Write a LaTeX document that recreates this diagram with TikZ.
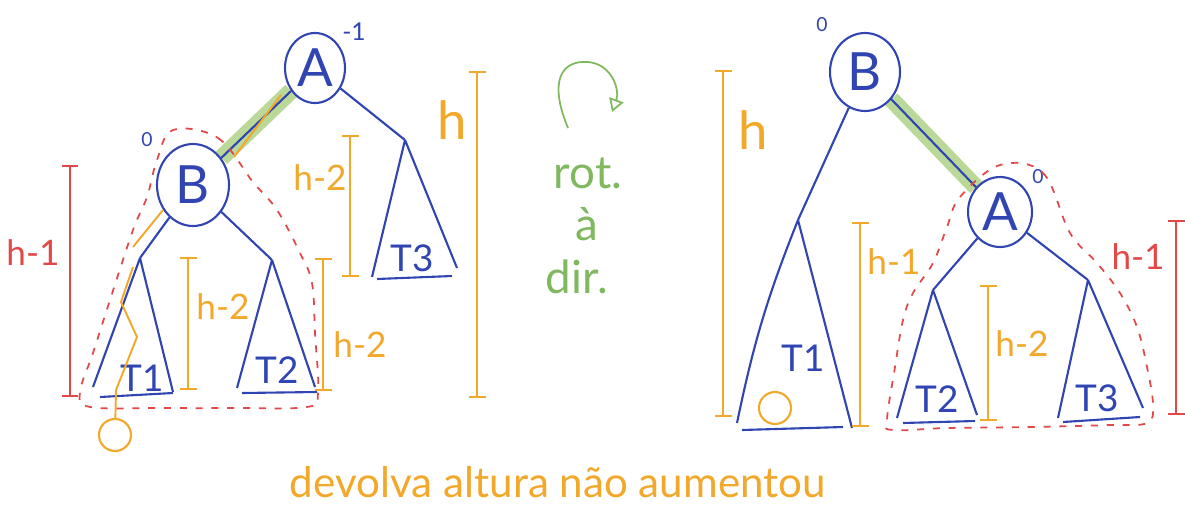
\documentclass[tikz,border=0pt]{standalone}
\usepackage{fontspec}
\setmainfont{Lato}
\usetikzlibrary{arrows.meta,shapes.geometric,backgrounds}
\definecolor{penblue}{RGB}{48,68,178}
\definecolor{penorange}{RGB}{242,168,42}
\definecolor{penred}{RGB}{226,72,72}
\definecolor{pengreen}{RGB}{128,184,96}
\definecolor{marker}{RGB}{186,216,152}

\begin{document}
\begin{tikzpicture}[x=0.02cm, y=-0.02cm,
  knot/.style={draw=penblue, ellipse, line width=1.2pt, inner sep=0pt,
    text=penblue, font=\fontsize{30}{32}\selectfont},
  link/.style={draw=penblue, line width=1.2pt},
  tlbl/.style={text=penblue, font=\fontsize{21}{24}\selectfont},
  bal/.style={text=penblue, font=\fontsize{11}{12}\selectfont},
  ohgt/.style={draw=penorange, line width=1.1pt, {Bar[width=0.34cm]}-{Bar[width=0.34cm]}},
  rhgt/.style={draw=penred, line width=1.1pt, {Bar[width=0.34cm]}-{Bar[width=0.34cm]}},
  olbl/.style={text=penorange, font=\fontsize{20}{22}\selectfont},
  rlbl/.style={text=penred, font=\fontsize{20}{22}\selectfont},
  biglbl/.style={text=penorange, font=\fontsize{30}{32}\selectfont},
  hilite/.style={draw=marker, line width=9.5pt},
  redhull/.style={draw=penred, line width=1pt, dash pattern=on 4pt off 5pt},
  newleaf/.style={draw=penorange, circle, line width=1.2pt, minimum size=0.64cm, inner sep=0pt},
  inspath/.style={draw=penorange, line width=1.1pt},
  rotlbl/.style={text=pengreen, font=\fontsize{26}{30}\selectfont, anchor=base},
  notelbl/.style={text=penorange, font=\fontsize{24}{28}\selectfont, anchor=base}
]
\useasboundingbox (0,0) rectangle (1185,518);

% before the rotation
\node[knot, minimum width=1.2cm, minimum height=1.4cm] (A1) at (315,68) {A};
\node[knot, minimum width=1.44cm, minimum height=1.64cm] (B1) at (193,185) {B};
\node[bal, font=\fontsize{14}{16}\selectfont] (bA1) at (354,32) {-1};
\node[bal] (bB1) at (147,140) {0};

\coordinate (L1) at (140,258);
\coordinate (L2) at (272,260);
\coordinate (L3) at (405,140);

\draw[link] (A1) -- (B1);
\draw[link] (A1) -- (L3);
\draw[link] (B1) -- (L1);
\draw[link] (B1) -- (L2);

\draw[link] (L1) -- (93,387) (L1) -- (173,392) (100,397) -- (173,393);
\draw[link] (L2) -- (237,388) (L2) -- (315,387) (242,393) -- (317,392);
\draw[link] (L3) -- (372,277) (L3) -- (457,268) (377,279) -- (452,276);
\node[tlbl] (lT1) at (142,378) {T1};
\node[tlbl] (lT2) at (277,370) {T2};
\node[tlbl] (lT3) at (412,258) {T3};

\node[newleaf] (n1) at (115,435) {};
\draw[inspath] (281,95) -- (234,157);
\draw[inspath] (163,210) -- (133,247);
\draw[inspath] (133,267) -- (121,302) -- (137,337) -- (116,390) -- (n1);

\draw[redhull] plot[smooth cycle, tension=0.6] coordinates {(173,130) (218,138) (253,182)
  (277,210) (300,253) (312,283) (315,333) (318,393) (307,407) (233,408) (160,408)
  (90,407) (80,392) (93,353) (110,300) (133,230) (147,197) (157,160)};

\draw[rhgt] (70,165) -- (70,397);
\node[rlbl] (lh1) at (33,253) {h-1};
\draw[ohgt] (188,257) -- (188,390);
\node[olbl] (lh2a) at (223,307) {h-2};
\draw[ohgt] (323,258) -- (323,391);
\node[olbl] (lh2b) at (360,345) {h-2};
\draw[ohgt] (350,135) -- (350,277);
\node[olbl] (lh2c) at (320,178) {h-2};
\draw[ohgt] (477,71) -- (477,398);
\node[biglbl] (lh) at (452,120) {h};

% rotation note
\draw[pengreen, line width=1pt, -{Triangle[open, length=0.26cm, width=0.3cm]}]
  (568,128) .. controls (548,80) and (562,60) .. (588,62)
  .. controls (612,64) and (620,90) .. (612,112);
\node[rotlbl] (rot1) at (588,188) {rot.};
\node[rotlbl] (rot2) at (587,240) {à};
\node[rotlbl] (rot3) at (577,293) {dir.};

% after the rotation
\node[knot, minimum width=1.4cm, minimum height=1.56cm] (B2) at (865,72) {B};
\node[knot, minimum width=1.28cm, minimum height=1.4cm] (A2) at (1000,212) {A};
\node[bal] (bB2) at (822,25) {0};
\node[bal] (bA2) at (1038,177) {0};

\coordinate (R1) at (798,220);
\coordinate (R2) at (933,290);
\coordinate (R3) at (1088,280);

\draw[link] (B2) -- (A2);
\draw[link] (B2) -- (R1);
\draw[link] (A2) -- (R2);
\draw[link] (A2) -- (R3);

\draw[link] (R1) to[bend right=5] (737,423) (R1) -- (852,428) (742,430) -- (843,427);
\draw[link] (R2) -- (897,418) (R2) -- (977,415) (903,423) -- (975,421);
\draw[link] (R3) -- (1058,418) (R3) -- (1143,408) (1063,422) -- (1140,417);
\node[tlbl] (rT1) at (803,358) {T1};
\node[tlbl] (rT2) at (937,399) {T2};
\node[tlbl] (rT3) at (1097,398) {T3};

\node[newleaf] (n2) at (775,408) {};

\draw[redhull] plot[smooth cycle, tension=0.6] coordinates {(1000,165) (1043,173)
  (1070,233) (1097,263) (1120,293) (1137,327) (1147,367) (1153,405) (1147,423)
  (1110,425) (1030,427) (947,428) (893,430) (887,420) (895,367) (903,320) (913,293)
  (933,263) (947,227) (960,197)};

\draw[ohgt] (723,70) -- (723,417);
\node[biglbl] (rh) at (753,130) {h};
\draw[ohgt] (860,222) -- (860,427);
\node[olbl] (rh1) at (894,262) {h-1};
\draw[ohgt] (988,285) -- (988,421);
\node[olbl] (rh2) at (1022,344) {h-2};
\draw[rhgt] (1176,220) -- (1176,415);
\node[rlbl] (rh1b) at (1138,257) {h-1};

\begin{scope}[on background layer]
\draw[hilite] (A1) -- (B1);
\draw[hilite] (B2) -- (A2);
\end{scope}

\node[notelbl] (note) at (558,497) {devolva altura não aumentou};
\end{tikzpicture}
\end{document}
